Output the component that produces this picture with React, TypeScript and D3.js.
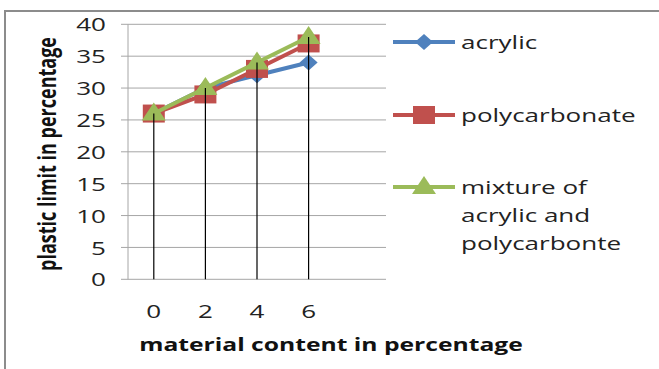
import React from "react";
import * as d3 from "d3";

const categories = ["0", "2", "4", "6", ""];
const acrylic = [26, 30, 32, 34];
const polycarbonate = [26, 29, 33, 37];
const mixture = [26, 30, 34, 38];
const yTicks = [0, 5, 10, 15, 20, 25, 30, 35, 40];
const legendLabels = [["acrylic"], ["polycarbonate"], ["mixture of", "acrylic and", "polycarbonte"]];

const W = 659, H = 369;
const plot = { left: 128, right: 386, top: 24.3, bottom: 279.3 };
const SX = 1.37;
const FONT = "'Open Sans', sans-serif";
const colors = ["#4F81BD", "#C0504D", "#9BBB59"];

function Marker({ kind, x, y, color }: { kind: number; x: number; y: number; color: string }) {
  if (kind === 0) {
    return <path d={`M${x},${y - 8}L${x + 9},${y}L${x},${y + 8}L${x - 9},${y}Z`} fill={color} />;
  }
  if (kind === 1) {
    return <rect x={x - 11} y={y - 9} width={22} height={18} fill={color} />;
  }
  return <path d={`M${x},${y - 11}L${x + 12},${y + 7}L${x - 12},${y + 7}Z`} fill={color} />;
}

export default function App() {
  const x = d3.scaleBand<string>().domain(categories).range([plot.left, plot.right]);
  const y = d3.scaleLinear().domain([0, 40]).range([plot.bottom, plot.top]);
  const series = [acrylic, polycarbonate, mixture];
  const cx = (i: number) => (x(categories[i]) as number) + x.bandwidth() / 2;
  const line = d3.line<number>().x((_, i) => cx(i)).y((d) => y(d));
  const maxVals = categories.slice(0, 4).map((_, i) => Math.max(acrylic[i], polycarbonate[i], mixture[i]));
  const legendY = [42, 115, 187];

  return (
    <svg width={W} height={H} style={{ position: "absolute", left: 0, top: 0 }}>
      <rect x={0} y={0} width={W} height={H} fill="#fff" />
      <rect x={5} y={11} width={720} height={420} fill="none" stroke="#8c8c8c" strokeWidth={2} />
      {yTicks.map((t) => (
        <g key={t}>
          <line x1={121} x2={plot.right} y1={y(t)} y2={y(t)} stroke="#a6a6a6" strokeWidth={1} />
          <text
            transform={`translate(106,${y(t)}) scale(${SX},1)`}
            textAnchor="end"
            dominantBaseline="central"
            fontFamily={FONT}
            fontSize={19}
            fill="#222"
          >
            {t}
          </text>
        </g>
      ))}
      <line x1={plot.left} x2={plot.left} y1={plot.top} y2={plot.bottom} stroke="#a6a6a6" />
      {categories.slice(0, 4).map((c, i) => (
        <text
          key={c}
          transform={`translate(${cx(i)},311) scale(${SX},1)`}
          textAnchor="middle"
          dominantBaseline="central"
          fontFamily={FONT}
          fontSize={19}
          fill="#222"
        >
          {c}
        </text>
      ))}
      {series.map((s, k) => (
        <g key={k}>
          <path d={line(s) as string} fill="none" stroke={colors[k]} strokeWidth={4} />
          {s.map((v, i) => (
            <Marker key={i} kind={k} x={cx(i)} y={y(v)} color={colors[k]} />
          ))}
        </g>
      ))}
      {maxVals.map((v, i) => (
        <line key={i} x1={cx(i)} x2={cx(i)} y1={y(v)} y2={plot.bottom} stroke="#000" strokeWidth={1.2} />
      ))}
      {legendLabels.map((lines, k) => (
        <g key={k}>
          <line x1={393} x2={455} y1={legendY[k]} y2={legendY[k]} stroke={colors[k]} strokeWidth={4} />
          <Marker kind={k} x={424} y={legendY[k]} color={colors[k]} />
          {lines.map((l, j) => (
            <text
              key={j}
              transform={`translate(461,${legendY[k] + j * 28}) scale(${SX},1)`}
              dominantBaseline="central"
              fontFamily={FONT}
              fontSize={19}
              fill="#222"
            >
              {l}
            </text>
          ))}
        </g>
      ))}
      <text
        transform={`translate(331,344) scale(${SX},1)`}
        textAnchor="middle"
        dominantBaseline="central"
        fontFamily={FONT}
        fontSize={18}
        fontWeight="bold"
        fill="#111"
      >
        material content in percentage
      </text>
      <text
        transform={`translate(46,154) scale(${SX},1) rotate(-90)`}
        textAnchor="middle"
        dominantBaseline="central"
        fontFamily={FONT}
        fontSize={18}
        fontWeight="bold"
        fill="#111"
      >
        plastic limit in percentage
      </text>
    </svg>
  );
}
